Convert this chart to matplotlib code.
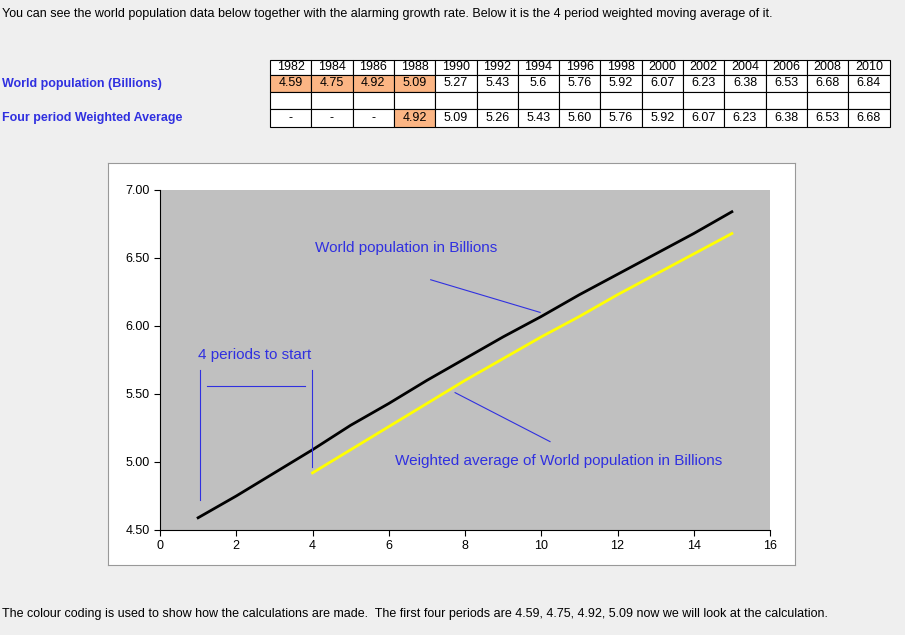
import matplotlib.pyplot as plt
from matplotlib.patches import Rectangle

years = [1982, 1984, 1986, 1988, 1990, 1992, 1994, 1996, 1998, 2000, 2002, 2004, 2006, 2008, 2010]
population = [4.59, 4.75, 4.92, 5.09, 5.27, 5.43, 5.6, 5.76, 5.92, 6.07, 6.23, 6.38, 6.53, 6.68, 6.84]
pop_labels = ["4.59", "4.75", "4.92", "5.09", "5.27", "5.43", "5.6", "5.76", "5.92", "6.07",
              "6.23", "6.38", "6.53", "6.68", "6.84"]
weighted = [None, None, None, 4.92, 5.09, 5.26, 5.43, 5.60, 5.76, 5.92, 6.07, 6.23, 6.38, 6.53, 6.68]
periods = list(range(1, 16))

plt.rcParams['font.family'] = ['Liberation Sans', 'DejaVu Sans']
W, H = 905, 635
fig = plt.figure(figsize=(W / 100, H / 100), dpi=100)
fig.patch.set_facecolor('#efefef')

def fx(px):
    return px / W

def fy(py):
    return 1 - py / H

blue = '#3030e0'
fig.text(fx(2), fy(14), "You can see the world population data below together with the alarming growth rate. "
         "Below it is the 4 period weighted moving average of it.", fontsize=9, va='center')
fig.text(fx(2), fy(84), "World population (Billions)", fontsize=9, color=blue, weight='bold', va='center')
fig.text(fx(2), fy(118), "Four period Weighted Average", fontsize=9, color=blue, weight='bold', va='center')
fig.text(fx(2), fy(614), "The colour coding is used to show how the calculations are made.  The first four periods "
         "are 4.59, 4.75, 4.92, 5.09 now we will look at the calculation.", fontsize=9, va='center')

# table
x0, cw = 270, 41.3
rows = [(60, 75), (75, 92), (92, 109), (109, 127)]
for i, yr in enumerate(years):
    xl = x0 + i * cw
    wa = "-" if weighted[i] is None else "%.2f" % weighted[i]
    texts = [str(yr), pop_labels[i], "", wa]
    for r, (top, bot) in enumerate(rows):
        fc = 'white'
        if (r == 1 and i < 4) or (r == 3 and i == 3):
            fc = '#fbb584'
        fig.patches.append(Rectangle((fx(xl), fy(bot)), cw / W, (bot - top) / H,
                                     transform=fig.transFigure, facecolor=fc,
                                     edgecolor='black', linewidth=0.8))
        if texts[r]:
            fig.text(fx(xl + cw / 2), fy((top + bot) / 2), texts[r], fontsize=9,
                     ha='center', va='center')

# chart box (white chart area behind the plot)
box = fig.add_axes([fx(108), fy(565), 687 / W, 402 / H])
box.set_xticks([])
box.set_yticks([])
box.set_facecolor('white')
for s in box.spines.values():
    s.set_color('#999999')
    s.set_linewidth(0.8)

ax = fig.add_axes([fx(160), fy(530), 610 / W, 340 / H])
ax.set_facecolor('#c0c0c0')
ax.plot(periods, population, color='black', linewidth=2)
wp = [p for p, v in zip(periods, weighted) if v is not None]
wv = [v for v in weighted if v is not None]
ax.plot(wp, wv, color='#ffff00', linewidth=2)
ax.set_xlim(0, 16)
ax.set_ylim(4.5, 7.0)
ax.set_xticks(range(0, 17, 2))
ax.set_yticks([4.5, 5.0, 5.5, 6.0, 6.5, 7.0])
ax.set_yticklabels(["%.2f" % v for v in [4.5, 5.0, 5.5, 6.0, 6.5, 7.0]])
ax.tick_params(labelsize=9, direction='out', length=4)
for s in ['top', 'right']:
    ax.spines[s].set_visible(False)

ax.text(4.07, 6.57, "World population in Billions", color=blue, fontsize=11, va='center')
ax.plot([7.1, 9.97], [6.34, 6.10], color=blue, linewidth=0.8)
ax.text(6.16, 5.01, "Weighted average of World population in Billions", color=blue, fontsize=11, va='center')
ax.plot([7.74, 10.23], [5.51, 5.15], color=blue, linewidth=0.8)
ax.text(1.0, 5.79, "4 periods to start", color=blue, fontsize=11, va='center')
ax.plot([1.05, 1.05], [5.68, 4.72], color=blue, linewidth=0.8)
ax.plot([3.99, 3.99], [5.68, 4.96], color=blue, linewidth=0.8)
ax.plot([1.23, 3.8], [5.56, 5.56], color=blue, linewidth=0.8)

fig.savefig('out.png', dpi=100, facecolor=fig.get_facecolor())
